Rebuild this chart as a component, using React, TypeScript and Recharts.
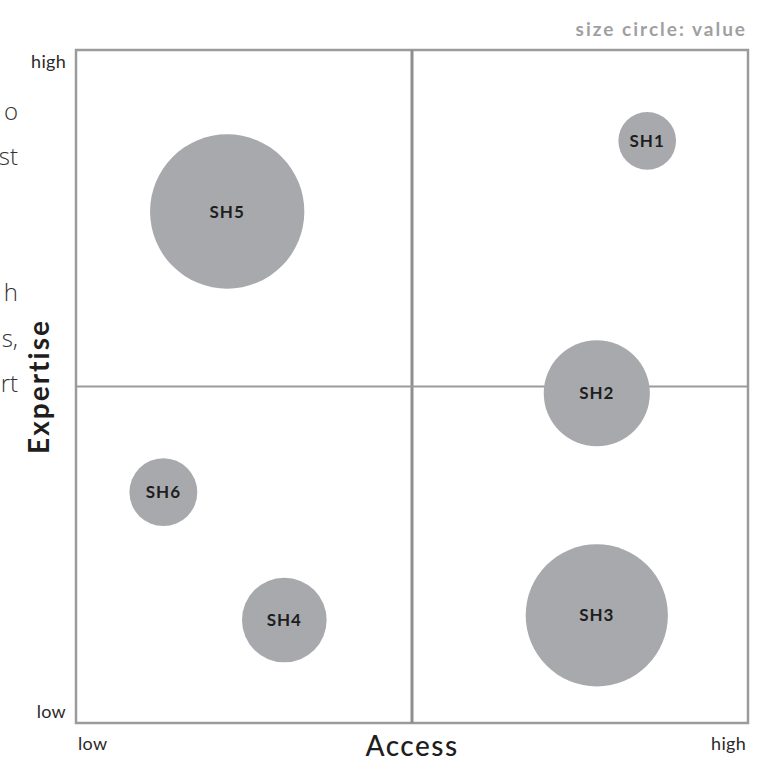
import * as React from 'react';
import { ScatterChart, Scatter, XAxis, YAxis, ZAxis, ReferenceLine, ReferenceArea, LabelList, Label } from 'recharts';

// stakeholders, position on access / expertise (0-10) and value (bubble area)
const names = ['SH1', 'SH2', 'SH3', 'SH4', 'SH5', 'SH6']
const access = [8.5, 7.75, 7.75, 3.1, 2.25, 1.3]
const expertise = [8.65, 4.9, 1.6, 1.53, 7.6, 3.43]
const values = [13, 44, 79, 28, 93, 18]
const tickLabels = ['low', 'high']
// cut-off ends of the body text next to the chart
const sideText = ['o', 'st', '', '', 'h', 's,', 'rt']

const data = names.map((name, i) => ({ name, x: access[i], y: expertise[i], z: values[i] }))

const font = 'Lato, "DejaVu Sans", sans-serif'
const lineColor = '#9b9b9b'

const XTick = (props: any) => {
  const { x, y, payload } = props
  const low = payload.value === 0
  return (
    <text x={low ? x + 2 : x - 2} y={y + 19} textAnchor={low ? 'start' : 'end'}
      fontFamily={font} fontSize={18} fill="#2a2a2a" letterSpacing={0.3}>
      {low ? tickLabels[0] : tickLabels[1]}
    </text>
  )
}

const YTick = (props: any) => {
  const { x, y, payload } = props
  const low = payload.value === 0
  return (
    <text x={x - 2} y={low ? y - 5 : y + 18} textAnchor="end"
      fontFamily={font} fontSize={18} fill="#2a2a2a" letterSpacing={0.3}>
      {low ? tickLabels[0] : tickLabels[1]}
    </text>
  )
}

const App = () => {
  return (
    <div style={{ position: 'absolute', left: 0, top: 0, width: 761, height: 762, background: '#fff' }}>
      {sideText.map((t, i) => (
        <div key={i} style={{
          position: 'absolute', right: 761 - 18, top: 96 + i * 45.3, fontFamily: '"Open Sans", sans-serif',
          fontWeight: 300, fontSize: 24, color: '#333', lineHeight: '30px', whiteSpace: 'nowrap'
        }}>{t}</div>
      ))}
      <div style={{
        position: 'absolute', right: 761 - 747, top: 17, fontFamily: font, fontWeight: 700,
        fontSize: 19, color: '#a0a0a0', letterSpacing: 2
      }}>size circle: value</div>
      <ScatterChart width={761} height={762} margin={{ top: 50, right: 13, bottom: 9, left: 16 }}
        style={{ position: 'absolute', left: 0, top: 0 }}>
        <XAxis type="number" dataKey="x" domain={[0, 10]} ticks={[0, 10]} axisLine={false} tickLine={false}
          height={30} tick={<XTick />}>
          <Label content={(p: any) => (
            <text x={p.viewBox.x + p.viewBox.width / 2} y={p.viewBox.y + 33} textAnchor="middle"
              fontFamily={font} fontSize={28} fontWeight={500} fill="#1e1e1e" letterSpacing={1.5}>Access</text>
          )} />
        </XAxis>
        <YAxis type="number" dataKey="y" domain={[0, 10]} ticks={[0, 10]} axisLine={false} tickLine={false}
          width={60} tick={<YTick />}>
          <Label content={(p: any) => {
            const cx = 38
            const cy = p.viewBox.y + p.viewBox.height / 2
            return (
              <text x={cx} y={cy} transform={`rotate(-90 ${cx} ${cy})`} textAnchor="middle" dominantBaseline="central"
                fontFamily={font} fontSize={28} fontWeight={700} fill="#1e1e1e" letterSpacing={2}>Expertise</text>
            )
          }} />
        </YAxis>
        <ZAxis type="number" dataKey="z" domain={[0, 100]} range={[0, Math.PI * 80 * 80]} />
        <ReferenceArea x1={0} x2={10} y1={0} y2={10} fill="none" stroke={lineColor} strokeWidth={2.5} ifOverflow="visible" />
        <ReferenceLine x={5} stroke="#8e8e8e" strokeWidth={3} />
        <ReferenceLine y={5} stroke={lineColor} strokeWidth={2} />
        <Scatter data={data} fill="#a8a9ad" isAnimationActive={false}>
          <LabelList dataKey="name" position="center" fill="#1e1e1e" fontFamily={font} fontSize={17}
            fontWeight={700} letterSpacing={1} />
        </Scatter>
      </ScatterChart>
    </div>
  )
}

export default App
